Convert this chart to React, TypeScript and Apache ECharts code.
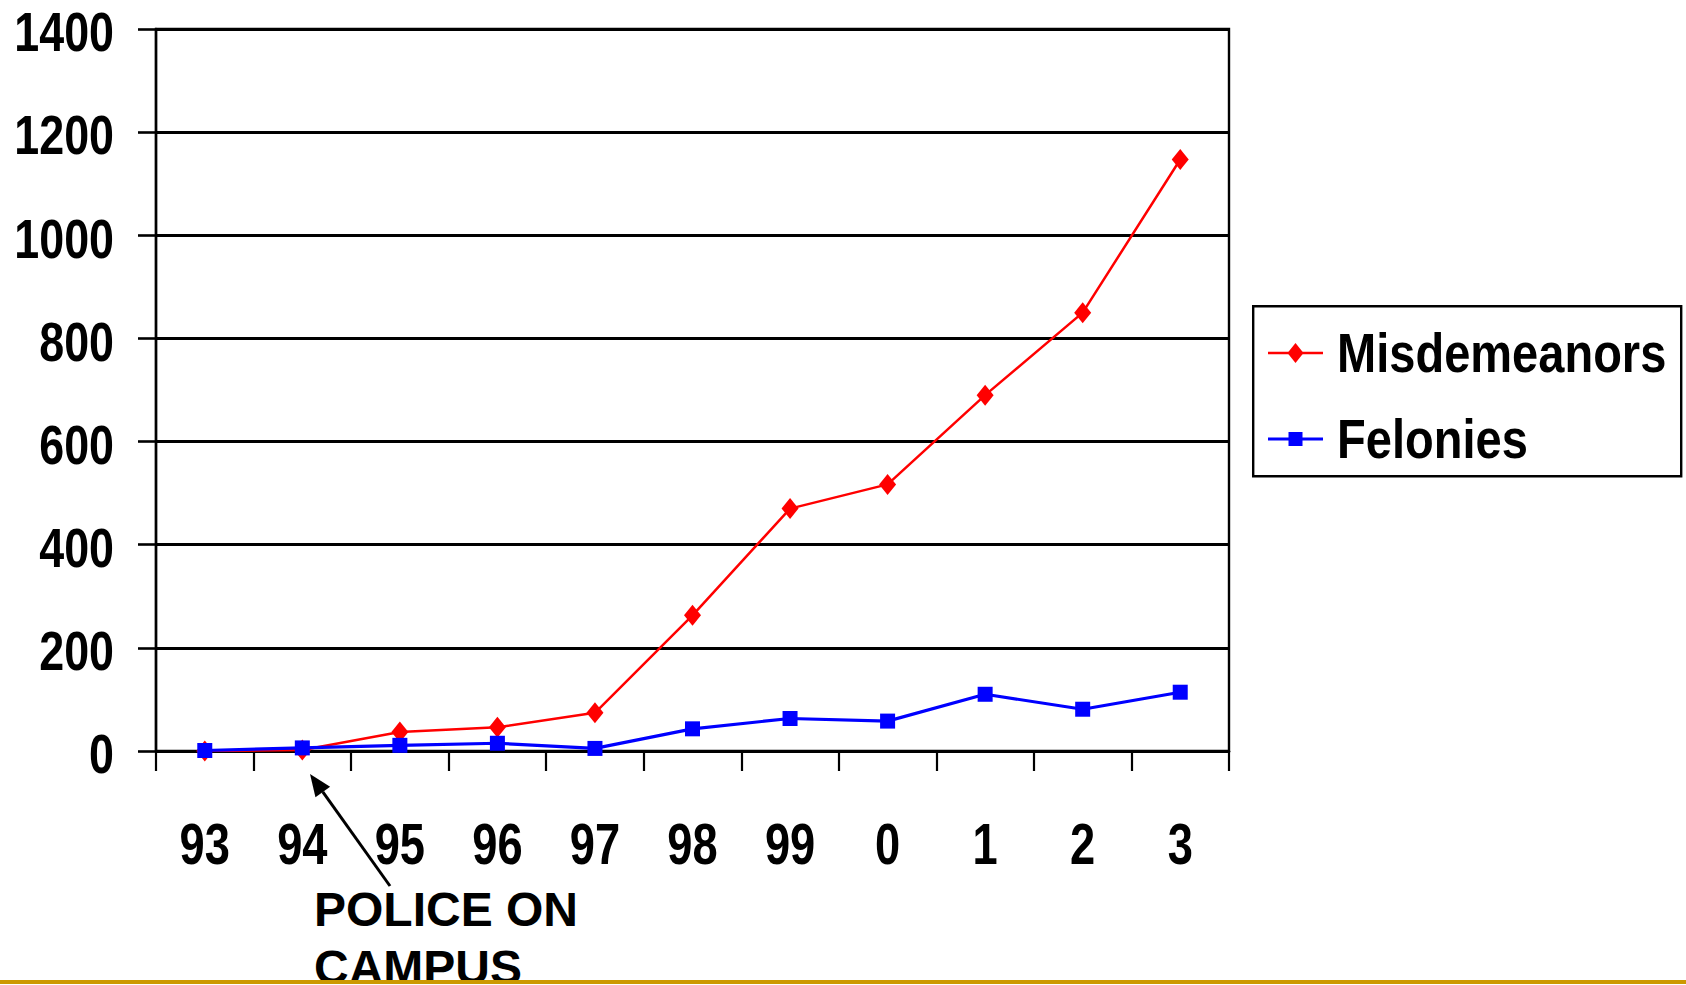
import React, { useEffect, useRef } from "react";
import * as echarts from "echarts";

const years = ["93", "94", "95", "96", "97", "98", "99", "0", "1", "2", "3"];
const misdemeanors = [0, 2, 37, 46, 74, 263, 470, 517, 690, 850, 1147];
const felonies = [1, 6, 11, 15, 5, 43, 63, 58, 110, 81, 114];
const seriesNames = ["Misdemeanors", "Felonies"];
const seriesColors = ["#ff0000", "#0000ff"];
const yTicks = [0, 200, 400, 600, 800, 1000, 1200, 1400];
const annotationText = "POLICE ON\nCAMPUS";

const SANS = "'Liberation Sans', Arial, Helvetica, sans-serif";

export default function App() {
  const ref = useRef<HTMLDivElement>(null);

  useEffect(() => {
    if (!ref.current) return;
    const chart = echarts.init(ref.current, null, { renderer: "svg" });

    chart.setOption({
      animation: false,
      backgroundColor: "#ffffff",
      grid: {
        left: 156,
        right: 1686 - 1229,
        top: 29,
        bottom: 985 - 751,
        show: true,
        borderColor: "#000",
        borderWidth: 2.4,
        outerBoundsMode: "none",
        containLabel: false,
      },
      legend: { show: false, data: seriesNames },
      xAxis: {
        type: "category",
        data: years,
        boundaryGap: true,
        axisLine: { lineStyle: { color: "#000", width: 2.6 } },
        axisTick: { show: true, length: 20, lineStyle: { color: "#000", width: 2.2 } },
        axisLabel: { show: false },
        splitLine: { show: false },
      },
      yAxis: {
        type: "value",
        min: 0,
        max: 1400,
        interval: 200,
        axisLine: { show: true, lineStyle: { color: "#000", width: 2.4 } },
        axisTick: { show: true, length: 18, lineStyle: { color: "#000", width: 2.6 } },
        axisLabel: { show: false },
        splitLine: { show: true, lineStyle: { color: "#000", width: 2.8 } },
      },
      series: [
        {
          name: seriesNames[0],
          type: "line",
          data: misdemeanors,
          symbol: "diamond",
          symbolSize: [17, 21],
          lineStyle: { color: seriesColors[0], width: 2.5 },
          itemStyle: { color: seriesColors[0] },
          z: 2,
        },
        {
          name: seriesNames[1],
          type: "line",
          data: felonies,
          symbol: "rect",
          symbolSize: 15,
          lineStyle: { color: seriesColors[1], width: 3.2 },
          itemStyle: { color: seriesColors[1] },
          z: 3,
        },
      ],
    });

    // axis labels drawn as condensed bold text at the positions given by the chart's own scales
    const axisY = chart.convertToPixel({ yAxisIndex: 0 }, 0) as number;
    const plotLeft = 156;

    const xLabels = years.map((y, i) => ({
      type: "text",
      x: chart.convertToPixel({ xAxisIndex: 0 }, i) as number,
      y: axisY + 93,
      scaleX: 0.78,
      silent: true,
      style: {
        text: y,
        fontFamily: SANS,
        fontWeight: "bold",
        fontSize: 58,
        fill: "#000",
        align: "center",
        verticalAlign: "middle",
      },
    }));

    const yLabels = yTicks.map((v) => ({
      type: "text",
      x: plotLeft - 42,
      y: (chart.convertToPixel({ yAxisIndex: 0 }, v) as number) + 3,
      scaleX: 0.8,
      silent: true,
      style: {
        text: String(v),
        fontFamily: SANS,
        fontWeight: "bold",
        fontSize: 56,
        fill: "#000",
        align: "right",
        verticalAlign: "middle",
      },
    }));

    // legend
    const legendLeft = 1252;
    const legendTop = 305;
    const rowY = [353, 439];
    const iconX1 = 1268;
    const iconX2 = 1323;
    const iconC = (iconX1 + iconX2) / 2;
    const legendEls: any[] = [
      {
        type: "rect",
        left: legendLeft,
        top: legendTop,
        shape: { width: 428, height: 170 },
        style: { fill: "#fff", stroke: "#000", lineWidth: 2.4 },
        z: 0,
      },
    ];
    seriesNames.forEach((name, i) => {
      const cy = rowY[i];
      legendEls.push({
        type: "line",
        shape: { x1: iconX1, y1: cy, x2: iconX2, y2: cy },
        style: { stroke: seriesColors[i], lineWidth: i === 0 ? 2.5 : 3.2 },
        z: 1,
      });
      if (i === 0) {
        legendEls.push({
          type: "polygon",
          shape: {
            points: [
              [iconC, cy - 10],
              [iconC + 8, cy],
              [iconC, cy + 10],
              [iconC - 8, cy],
            ],
          },
          style: { fill: seriesColors[i] },
          z: 2,
        });
      } else {
        legendEls.push({
          type: "rect",
          shape: { x: iconC - 7, y: cy - 7, width: 14, height: 14 },
          style: { fill: seriesColors[i] },
          z: 2,
        });
      }
      legendEls.push({
        type: "text",
        x: 1337,
        y: cy,
        scaleX: 0.84,
        style: {
          text: name,
          fontFamily: SANS,
          fontWeight: "bold",
          fontSize: 56,
          fill: "#000",
          align: "left",
          verticalAlign: "middle",
        },
        z: 2,
      });
    });

    // annotation arrow
    const tip = [310, 774];
    const tail = [390, 886];
    const dx = tip[0] - tail[0];
    const dy = tip[1] - tail[1];
    const len = Math.sqrt(dx * dx + dy * dy);
    const ux = dx / len;
    const uy = dy / len;
    const headLen = 22;
    const headHalf = 9;
    const bx = tip[0] - ux * headLen;
    const by = tip[1] - uy * headLen;
    const px = -uy;
    const py = ux;

    chart.setOption({
      graphic: [
        ...xLabels,
        ...yLabels,
        ...legendEls,
        {
          type: "line",
          shape: { x1: tail[0], y1: tail[1], x2: bx, y2: by },
          style: { stroke: "#000", lineWidth: 3 },
        },
        {
          type: "polygon",
          shape: {
            points: [
              [tip[0], tip[1]],
              [bx + px * headHalf, by + py * headHalf],
              [bx - px * headHalf, by - py * headHalf],
            ],
          },
          style: { fill: "#000" },
        },
        {
          type: "text",
          x: 314,
          y: 880,
          style: {
            text: annotationText,
            fontFamily: SANS,
            fontWeight: "bold",
            fontSize: 48,
            lineHeight: 58,
            fill: "#000",
            verticalAlign: "top",
            align: "left",
          },
        },
        {
          type: "rect",
          left: 0,
          top: 980,
          shape: { width: 1686, height: 4 },
          style: { fill: "#CC9900" },
          z: 10,
        },
      ],
    });

    return () => chart.dispose();
  }, []);

  return (
    <div
      ref={ref}
      style={{ position: "fixed", left: 0, top: 0, width: 1686, height: 985 }}
    />
  );
}
